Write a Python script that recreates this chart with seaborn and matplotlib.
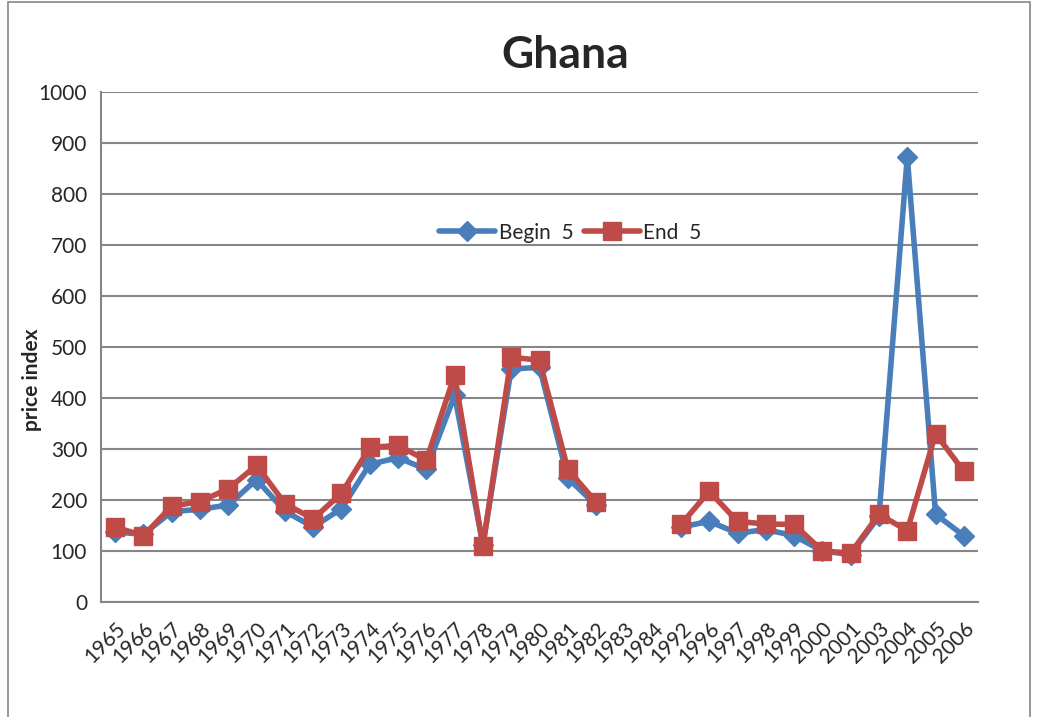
import numpy as np
import pandas as pd
import seaborn as sns
import matplotlib.pyplot as plt
from matplotlib.patches import Rectangle

years = ["1965", "1966", "1967", "1968", "1969", "1970", "1971", "1972", "1973", "1974",
         "1975", "1976", "1977", "1978", "1979", "1980", "1981", "1982", "1983", "1984",
         "1992", "1996", "1997", "1998", "1999", "2000", "2001", "2003", "2004", "2005", "2006"]
begin5 = [137, 133, 177, 182, 190, 240, 178, 147, 183, 270,
          283, 260, 405, 112, 457, 460, 243, 190, np.nan, np.nan,
          147, 158, 135, 142, 130, 100, 93, 168, 873, 172, 130]
end5 = [147, 130, 188, 197, 222, 268, 193, 163, 213, 303,
        307, 278, 445, 110, 480, 474, 260, 196, np.nan, np.nan,
        152, 217, 158, 153, 152, 100, 96, 172, 140, 330, 256]

df = pd.DataFrame({"year": years, "Begin  5": begin5, "End  5": end5})

sns.set_style("white")
plt.rcParams["font.family"] = ["Lato", "DejaVu Sans"]

fig = plt.figure(figsize=(10.37, 7.17), dpi=100)
ax = fig.add_axes([101 / 1037, 1 - 602 / 717, 877 / 1037, 510 / 717])

pos = np.arange(len(years))
ax.plot(pos, df["Begin  5"], color="#4a7ebb", lw=4, marker="D", ms=10,
        label="Begin  5", zorder=3)
ax.plot(pos, df["End  5"], color="#be4b48", lw=4, marker="s", ms=13,
        label="End  5", zorder=4)

ax.set_xlim(-0.5, len(years) - 0.5)
ax.set_ylim(0, 1000)
ax.set_yticks(range(0, 1001, 100))
ax.set_xticks(pos)
ax.set_xticklabels(years, rotation=45, ha="right", rotation_mode="anchor", fontsize=15)
ax.set_xticks(np.arange(-0.5, len(years)), minor=True)
ax.tick_params(axis="x", which="major", length=0, pad=12)
ax.tick_params(axis="x", which="minor", length=6, color="#868686", width=1.5, direction="out")
ax.tick_params(axis="y", length=6, color="#868686", width=1.5, labelsize=15, direction="out",
               pad=4)
ax.yaxis.grid(True, color="#868686", lw=1.5)
for s in ["top", "right"]:
    ax.spines[s].set_visible(False)
for s in ["left", "bottom"]:
    ax.spines[s].set_color("#868686")
    ax.spines[s].set_linewidth(1.5)

ax.set_ylabel("price index", fontsize=15, fontweight="bold")
ax.yaxis.set_label_coords(-(101 - 42) / 877, (602 - 380) / 510)
fig.text(565 / 1037, 1 - 68 / 717, "Ghana", fontsize=32, fontweight="bold",
         ha="center", va="baseline")

ax.legend(loc="center", bbox_to_anchor=(0.535, 0.724), ncol=2, frameon=False,
          fontsize=15, handlelength=2.7, columnspacing=0.5, handletextpad=0.15)

fig.patches.append(Rectangle((8 / 1037, -0.05), 1022 / 1037, 1.047, transform=fig.transFigure,
                             fill=False, edgecolor="#868686", lw=1.2))

fig.savefig("out.png", dpi=100)
